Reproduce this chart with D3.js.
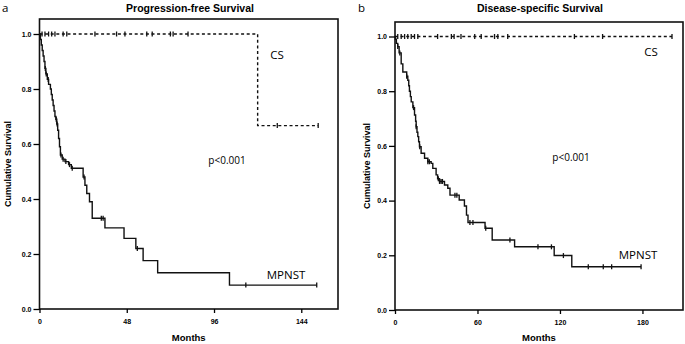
<!DOCTYPE html>
<html>
<head>
<meta charset="utf-8">
<script src="https://cdn.jsdelivr.net/npm/d3@7"></script>
<style>
  body { margin: 0; background: #fff; }
  svg { display: block; }
  .tick text { font-family: "Liberation Sans", Arial, sans-serif; font-weight: bold; font-size: 7px; }
  .lbl { font-family: "Liberation Sans", Arial, sans-serif; font-weight: bold; }
  .note { font-family: "Open Sans", sans-serif; }
</style>
</head>
<body>
<script>
var w = 685,
    h = 344;

// Panel a: progression-free survival, steps as [month, survival after step]
var pfsMpnstSteps = [
  [0.5, 0.98], [1.0, 0.96], [1.5, 0.94], [2.0, 0.92], [2.5, 0.90], [3.0, 0.875],
  [3.5, 0.855], [4.3, 0.835], [5.0, 0.817], [6.0, 0.80], [6.5, 0.78], [7.0, 0.76],
  [7.5, 0.74], [8.0, 0.72], [8.5, 0.70], [9.0, 0.69], [9.5, 0.673], [10.0, 0.65],
  [10.5, 0.62], [11.0, 0.59], [11.5, 0.56], [12.5, 0.545], [14.0, 0.536],
  [16.0, 0.525], [17.5, 0.512], [24.0, 0.48], [25.0, 0.45], [26.0, 0.42],
  [27.5, 0.39], [29.0, 0.33], [36.0, 0.295], [46.5, 0.257], [53.0, 0.22],
  [57.0, 0.176], [65.0, 0.132], [104.5, 0.087]
];
var pfsMpnstEnd = 152.5;
var pfsMpnstCensor = [3.2, 3.7, 4.8, 9.2, 9.7, 11.8, 13.0, 14.5, 16.5, 18.0, 24.5, 34.0, 35.0, 53.8, 113.5, 152.5];

var pfsCsSteps = [[120, 0.667]];
var pfsCsEnd = 153.3;
var pfsCsCensor = [1.4, 3, 5, 6.7, 8.5, 13, 15, 30.5, 42.4, 47, 59, 62, 72, 73.5, 81.7, 130.8, 153.3];

// Panel b: disease-specific survival
var dssMpnstSteps = [
  [0.3, 0.99], [1.0, 0.975], [2.0, 0.963], [3.0, 0.94], [4.5, 0.90], [5.7, 0.87],
  [8.5, 0.855], [9.3, 0.84], [10.0, 0.82], [10.5, 0.80], [11.2, 0.78], [11.8, 0.761],
  [13.0, 0.74], [14.2, 0.713], [15.0, 0.69], [15.4, 0.67], [16.0, 0.65], [16.6, 0.634],
  [17.2, 0.615], [17.8, 0.597], [19.0, 0.573], [21.5, 0.555], [23.9, 0.542],
  [26.3, 0.536], [27.5, 0.518], [29.9, 0.494], [31.0, 0.48], [32.4, 0.47],
  [36.0, 0.457], [38.4, 0.445], [40.0, 0.42], [46.7, 0.402], [50.5, 0.38],
  [52.0, 0.347], [53.1, 0.32], [65.5, 0.299], [70.7, 0.256], [87.0, 0.231],
  [115.8, 0.199], [128.6, 0.158]
];
var dssMpnstEnd = 179;
var dssMpnstCensor = [2, 3.5, 8.5, 13.5, 15.4, 18, 23.9, 25, 31.5, 32.4, 33.5, 34.5, 43.6, 45, 54.5, 56.7, 66, 83.6, 104, 113.8, 122.5, 140.6, 151.5, 157.6, 179];

var dssCsSteps = [];
var dssCsEnd = 201.5;
var dssCsCensor = [2, 4.5, 7, 9.3, 11.8, 14.2, 16.6, 31, 41, 43, 48, 58, 62.7, 72.4, 74.8, 82, 130.5, 151, 201.5];

var yTicks = [0, 0.2, 0.4, 0.6, 0.8, 1.0];

var svg = d3.select('body')
            .append('svg')
            .attr('width', w)
            .attr('height', h);

function survAt(steps, t) {
  var s = 1;
  for (var i = 0; i < steps.length; i++) {
    if (steps[i][0] <= t) s = steps[i][1];
  }
  return s;
}

function drawPanel(opt) {
  var x = d3.scaleLinear().domain([0, opt.xMax]).range([opt.left, opt.right]);
  var y = d3.scaleLinear().domain([0, 1]).range([opt.bottom, opt.y1]);

  var g = svg.append('g');

  // frame
  g.append('rect')
   .attr('x', opt.left)
   .attr('y', opt.top)
   .attr('width', opt.right - opt.left)
   .attr('height', opt.bottom - opt.top)
   .style('fill', 'none')
   .style('stroke', '#111')
   .style('stroke-width', 1.6);

  g.append('g')
   .attr('transform', 'translate(' + opt.left + ',0)')
   .call(d3.axisLeft(y).tickValues(yTicks).tickFormat(d3.format('.1f')).tickSize(6).tickSizeOuter(0).tickPadding(2))
   .call(function(a) { a.select('.domain').remove(); a.selectAll('line').style('stroke-width', 1.3); });

  g.append('g')
   .attr('transform', 'translate(0,' + opt.bottom + ')')
   .call(d3.axisBottom(x).tickValues(opt.xTicks).tickSize(4).tickSizeOuter(0).tickPadding(6))
   .call(function(a) { a.select('.domain').remove(); a.selectAll('line').style('stroke-width', 1.3); });

  var line = d3.line()
               .x(function(d) { return x(d[0]); })
               .y(function(d) { return y(d[1]); })
               .curve(d3.curveStepAfter);

  opt.curves.forEach(function(c) {
    var pts = [[0, 1]].concat(c.steps);
    pts.push([c.end, pts[pts.length - 1][1]]);
    g.append('path')
     .attr('d', line(pts))
     .style('fill', 'none')
     .style('stroke', '#111')
     .style('stroke-width', 1.4)
     .style('stroke-dasharray', c.dashed ? '3,2.6' : null);

    g.selectAll(null)
     .data(c.censor)
     .enter()
     .append('line')
     .attr('x1', function(d) { return x(d); })
     .attr('x2', function(d) { return x(d); })
     .attr('y1', function(d) { return y(survAt(c.steps, d)) - 2.5; })
     .attr('y2', function(d) { return y(survAt(c.steps, d)) + 2.5; })
     .style('stroke', '#111')
     .style('stroke-width', 1.3);
  });

  // titles and labels
  svg.append('text').attr('class', 'note')
     .attr('x', opt.letterX).attr('y', 12)
     .style('font-size', '11.5px')
     .text(opt.letter);

  svg.append('text').attr('class', 'lbl')
     .attr('x', opt.titleX).attr('y', 12)
     .attr('text-anchor', 'middle')
     .style('font-size', '10.5px')
     .text(opt.title);

  svg.append('text').attr('class', 'lbl')
     .attr('transform', 'translate(' + opt.ylabX + ',' + ((opt.top + opt.bottom) / 2) + ') rotate(-90)')
     .attr('text-anchor', 'middle')
     .style('font-size', '9px')
     .text('Cumulative Survival');

  svg.append('text').attr('class', 'lbl')
     .attr('x', (opt.left + opt.right) / 2).attr('y', 341)
     .attr('text-anchor', 'middle')
     .style('font-size', '9.5px')
     .text('Months');

  opt.notes.forEach(function(n) {
    svg.append('text').attr('class', 'note')
       .attr('x', n.x).attr('y', n.y)
       .attr('text-anchor', 'middle')
       .style('font-size', n.size + 'px')
       .text(n.text);
  });
}

drawPanel({
  left: 39.5, right: 338, top: 19, bottom: 309, y1: 34,
  xMax: 164.2, xTicks: [0, 48, 96, 144],
  letter: 'a', letterX: 2,
  title: 'Progression-free Survival', titleX: 190,
  ylabX: 11,
  curves: [
    { steps: pfsCsSteps, end: pfsCsEnd, censor: pfsCsCensor, dashed: true },
    { steps: pfsMpnstSteps, end: pfsMpnstEnd, censor: pfsMpnstCensor, dashed: false }
  ],
  notes: [
    { text: 'CS', x: 277, y: 59, size: 11.5 },
    { text: 'p<0.001', x: 227, y: 164, size: 10 },
    { text: 'MPNST', x: 286, y: 279, size: 11.5 }
  ]
});

drawPanel({
  left: 395, right: 683, top: 22, bottom: 310, y1: 36.5,
  xMax: 209.5, xTicks: [0, 60, 120, 180],
  letter: 'b', letterX: 358,
  title: 'Disease-specific Survival', titleX: 540,
  ylabX: 370,
  curves: [
    { steps: dssCsSteps, end: dssCsEnd, censor: dssCsCensor, dashed: true },
    { steps: dssMpnstSteps, end: dssMpnstEnd, censor: dssMpnstCensor, dashed: false }
  ],
  notes: [
    { text: 'CS', x: 651, y: 56, size: 11.5 },
    { text: 'p<0.001', x: 571, y: 161, size: 10 },
    { text: 'MPNST', x: 638, y: 259, size: 11.5 }
  ]
});
</script>
</body>
</html>
